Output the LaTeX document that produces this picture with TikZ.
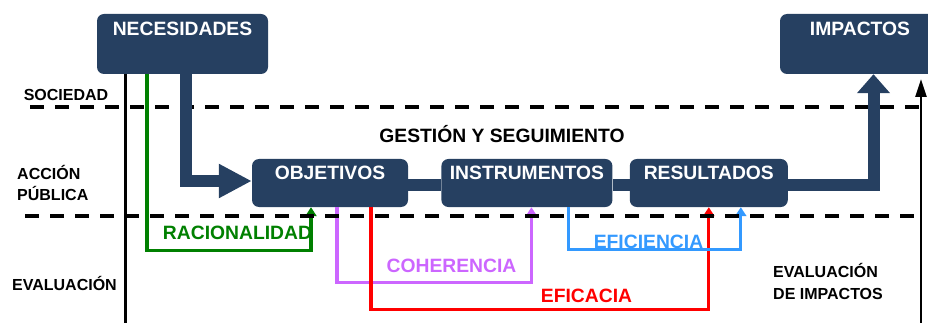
\documentclass[tikz,border=0pt]{standalone}
\usepackage{fontspec}
\setmainfont{Liberation Sans}
\usepackage{xcolor}
\usepackage{tikz}
\usetikzlibrary{positioning}
\usetikzlibrary{arrows.meta}
\definecolor{navy}{RGB}{38,64,97}
\definecolor{racgreen}{RGB}{0,128,0}
\definecolor{cohviolet}{RGB}{204,102,255}
\definecolor{efired}{RGB}{255,0,0}
\definecolor{efiblue}{RGB}{51,153,255}

\begin{document}
\begin{tikzpicture}[x=1pt, y=-1pt,
    node distance = 33pt and 33pt,% for distance between nodes
       box/.style = {fill=navy, rounded corners=7pt, text=white,
                     font=\bfseries\fontsize{19.3}{22}\selectfont,
                     inner sep=0pt, text height=20.5pt, text depth=27.5pt},% lower boxes
    bigbox/.style = {box, text height=21.5pt, text depth=38.5pt},% upper boxes
       lbl/.style = {font=\bfseries\fontsize{16}{22}\selectfont, align=left, inner sep=0pt},% zone labels
      crit/.style = {font=\bfseries\fontsize{19.3}{22}\selectfont, inner sep=0pt},% criteria
       bar/.style = {draw=navy, line width=12pt},% thick flow
      link/.style = {line width=3.2pt, -{Triangle[width=11pt,length=9pt]}},% criteria arrows
    sepline/.style = {line width=4pt, dash pattern=on 14pt off 11pt}% zone borders
    ]
    \useasboundingbox (0,0) rectangle (928,323);
    \clip (0,0) rectangle (928,323);
    % boxes
    \node (nec) [bigbox, minimum width=171pt] at (182.5,44) {NECESIDADES};
    \node (imp) [bigbox, minimum width=160pt] at (860,44) {IMPACTOS};
    \node (obj) [box, minimum width=156pt] at (330,183) {OBJETIVOS};
    \node (ins) [box, minimum width=171pt, right=33pt of obj] {INSTRUMENTOS};
    \node (res) [box, minimum width=158pt, right=17pt of ins] {RESULTADOS};
    % axes
    \coordinate (lbot) at (125,323);
    \coordinate (rbot) at (921,323);
    \coordinate (rtop) at (921,79);
    \draw[line width=3pt] (lbot |- nec.south) -- (lbot);
    \draw[line width=2.5pt, -{Triangle[width=11pt,length=18pt]}] (rbot) -- (rtop);
    % criteria
    \draw[link, racgreen] ([xshift=-35.5pt]nec.south) -- ++(0,176) -| ([xshift=-19pt]obj.south);
    \draw[link, cohviolet] ([xshift=7pt]obj.south) -- ++(0,75) -| ([xshift=4.5pt]ins.south);
    \draw[link, efired] ([xshift=41pt]obj.south) -- ++(0,102) -| (res.south);
    \draw[link, efiblue] ([xshift=41.5pt]ins.south) -- ++(0,42) -| ([xshift=32pt]res.south);
    % zone borders
    \coordinate (soc-w) at (30,107);
    \coordinate (soc-e) at (921,107);
    \coordinate (eva-w) at (25,216);
    \coordinate (eva-e) at (921,216);
    \draw[sepline] (soc-w) -- (soc-e);
    \draw[sepline] (eva-w) -- (eva-e);
    % main flow
    \draw[bar, -{Triangle[width=32pt,length=33pt]}] ([xshift=3pt]nec.south) |- ([yshift=2pt]obj.west);
    \draw[bar] ([yshift=-2pt]obj.east) -- ([yshift=-2pt]ins.west);
    \draw[bar] ([yshift=-2pt]ins.east) -- ([yshift=-2pt]res.west);
    \draw[bar, -{Triangle[width=32pt,length=19pt]}] ([yshift=-2pt]res.east) -| ([xshift=13.5pt]imp.south);
    % labels
    \node (soc) [lbl, anchor=base] at (66,100.2) {SOCIEDAD};
    \node (acc) [lbl, anchor=base west, font=\bfseries\fontsize{16}{21.5}\selectfont] at (17,200.7) {ACCIÓN\\PÚBLICA};
    \node (eva) [lbl, anchor=base] at (64.5,290) {EVALUACIÓN};
    \node (evi) [lbl, anchor=base west, font=\bfseries\fontsize{16}{22.5}\selectfont] at (773,299.7) {EVALUACIÓN\\DE IMPACTOS};
    \node (ges) [crit, anchor=base] at (502,142.4) {GESTIÓN Y SEGUIMIENTO};
    \node (rac) [crit, anchor=base, text=racgreen] at (237.5,239) {RACIONALIDAD};
    \node (coh) [crit, anchor=base, text=cohviolet] at (451.5,272) {COHERENCIA};
    \node (efa) [crit, anchor=base, text=efired] at (586.5,302) {EFICACIA};
    \node (efi) [crit, anchor=base, text=efiblue] at (648.5,248) {EFICIENCIA};
\end{tikzpicture}
\end{document}
